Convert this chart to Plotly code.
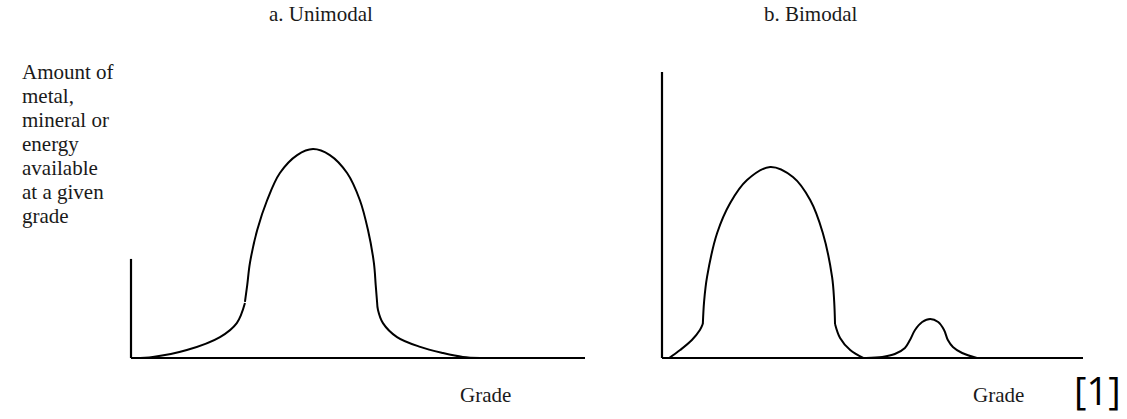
import plotly.graph_objects as go

# ---------------- data (grade 0-100 along x-axis, relative amount) ----------------
# Panel a: unimodal
uni_rise_grade = [0.9, 4.8, 12.3, 19.6, 23.3, 25.1]
uni_rise_amt = [0.0, 0.5, 3.8, 10.0, 16.7, 26.3]
uni_bell_grade = [25.1, 25.6, 26.2, 27.8, 30.0, 32.8, 36.6, 40.1, 43.8, 47.6, 50.4, 52.2, 53.5, 53.9, 54.2]
uni_bell_amt = [26.8, 34.9, 45.5, 61.2, 75.6, 88.5, 97.1, 100.0, 97.1, 88.5, 75.6, 61.2, 45.5, 34.9, 26.8]
uni_fall_grade = [54.2, 54.4, 55.5, 58.6, 63.7, 68.7, 73.1, 76.9]
uni_fall_amt = [26.8, 23.0, 16.7, 10.0, 5.3, 2.4, 0.5, 0.0]
uni_yaxis_top = 47.4

# Panel b: bimodal
bi_rise_grade = [1.7, 4.3, 7.1, 9.0, 9.7]
bi_rise_amt = [0.0, 3.8, 8.6, 13.4, 16.3]
bi_bell_grade = [9.7, 10.0, 10.7, 13.1, 16.2, 20.2, 25.7, 31.1, 35.2, 38.2, 40.4, 40.9, 41.1]
bi_bell_amt = [16.3, 27.0, 38.8, 59.8, 74.2, 85.2, 91.4, 86.6, 75.6, 59.8, 38.8, 27.0, 16.3]
bi_fall_grade = [41.1, 42.3, 44.7, 47.8]
bi_fall_amt = [16.3, 9.6, 3.8, 0.0]
bi_bump_grade = [48.5, 52.3, 55.3, 57.7, 58.9, 60.1, 61.8, 63.7, 65.6, 67.0, 67.9, 69.1, 71.3, 74.8]
bi_bump_amt = [0.0, 0.5, 1.9, 4.8, 8.6, 13.4, 17.2, 18.7, 17.2, 13.4, 8.6, 5.3, 2.4, 0.0]
bi_yaxis_top = 136.8

titles = ["a. Unimodal", "b. Bimodal"]
ylabel_lines = ["Amount of", "metal,", "mineral or", "energy", "available", "at a given", "grade"]
xlabel = "Grade"
source_tag = "[1]"

# ---------------- layout geometry ----------------
W, H = 1127, 419
SERIF = "Liberation Serif"
TXT = "#1a1a1a"


def px(p):
    return p / W


def py(p):
    return 1 - p / H


def xdom(p0, p1):
    return [px(p0), px(p1)]


def ydom(pb, pt):
    return [py(pb), py(pt)]


fig = go.Figure()

line_style = dict(color="black", width=2, shape="spline", smoothing=1.0)


def add_curve(xs, ys, xa, ya):
    fig.add_trace(go.Scatter(x=xs, y=ys, mode="lines", line=line_style,
                             xaxis=xa, yaxis=ya, hoverinfo="skip", showlegend=False))


for xs, ys in [(uni_rise_grade, uni_rise_amt), (uni_bell_grade, uni_bell_amt),
               (uni_fall_grade, uni_fall_amt)]:
    add_curve(xs, ys, "x", "y")
for xs, ys in [(bi_rise_grade, bi_rise_amt), (bi_bell_grade, bi_bell_amt),
               (bi_fall_grade, bi_fall_amt), (bi_bump_grade, bi_bump_amt)]:
    add_curve(xs, ys, "x2", "y2")

# axes drawn as lines in data coordinates
axis_line = dict(color="black", width=2.2)
fig.add_shape(type="line", xref="x", yref="y", x0=0, y0=0, x1=100, y1=0, line=axis_line)
fig.add_shape(type="line", xref="x", yref="y", x0=0, y0=0, x1=0, y1=uni_yaxis_top, line=axis_line)
fig.add_shape(type="line", xref="x2", yref="y2", x0=0, y0=0, x1=100, y1=0, line=axis_line)
fig.add_shape(type="line", xref="x2", yref="y2", x0=0, y0=0, x1=0, y1=bi_yaxis_top, line=axis_line)

hidden = dict(visible=False, showgrid=False, zeroline=False, fixedrange=True)
# left: origin page px (131,358), 4.54 px per grade unit, 2.09 px per amount unit
# right: origin page px (662,358), 4.21 px per grade unit, 2.09 px per amount unit
fig.update_layout(
    xaxis=dict(domain=xdom(120, 600), range=[(120 - 131) / 4.54, (600 - 131) / 4.54], **hidden),
    yaxis=dict(domain=ydom(370, 130), range=[(358 - 370) / 2.09, (358 - 130) / 2.09], **hidden),
    xaxis2=dict(domain=xdom(650, 1100), range=[(650 - 662) / 4.21, (1100 - 662) / 4.21],
                anchor="y2", **hidden),
    yaxis2=dict(domain=ydom(370, 60), range=[(358 - 370) / 2.09, (358 - 60) / 2.09],
                anchor="x2", **hidden),
)

ann = []
for t, cx in zip(titles, [321, 810]):
    ann.append(dict(text=t, x=px(cx), y=py(14), xref="paper", yref="paper",
                    showarrow=False, xanchor="center", yanchor="middle",
                    font=dict(family=SERIF, size=21, color=TXT)))
for i, t in enumerate(ylabel_lines):
    ann.append(dict(text=t, x=px(20), y=py(72 + 24 * i), xref="paper", yref="paper",
                    showarrow=False, xanchor="left", yanchor="middle",
                    font=dict(family=SERIF, size=21, color=TXT)))
for cx in [485, 998]:
    ann.append(dict(text=xlabel, x=px(cx), y=py(395), xref="paper", yref="paper",
                    showarrow=False, xanchor="center", yanchor="middle",
                    font=dict(family=SERIF, size=21, color=TXT)))
ann.append(dict(text=source_tag, x=px(1097), y=py(390), xref="paper", yref="paper",
                showarrow=False, xanchor="center", yanchor="middle",
                font=dict(family="Open Sans", size=38, color="black")))

fig.update_layout(
    width=W, height=H, margin=dict(l=0, r=0, t=0, b=0),
    paper_bgcolor="white", plot_bgcolor="white",
    annotations=ann, showlegend=False,
)

fig.write_html(
    "out.html",
    config={"displayModeBar": False},
    post_script="document.body.style.margin='0';document.body.style.overflow='hidden';",
)
